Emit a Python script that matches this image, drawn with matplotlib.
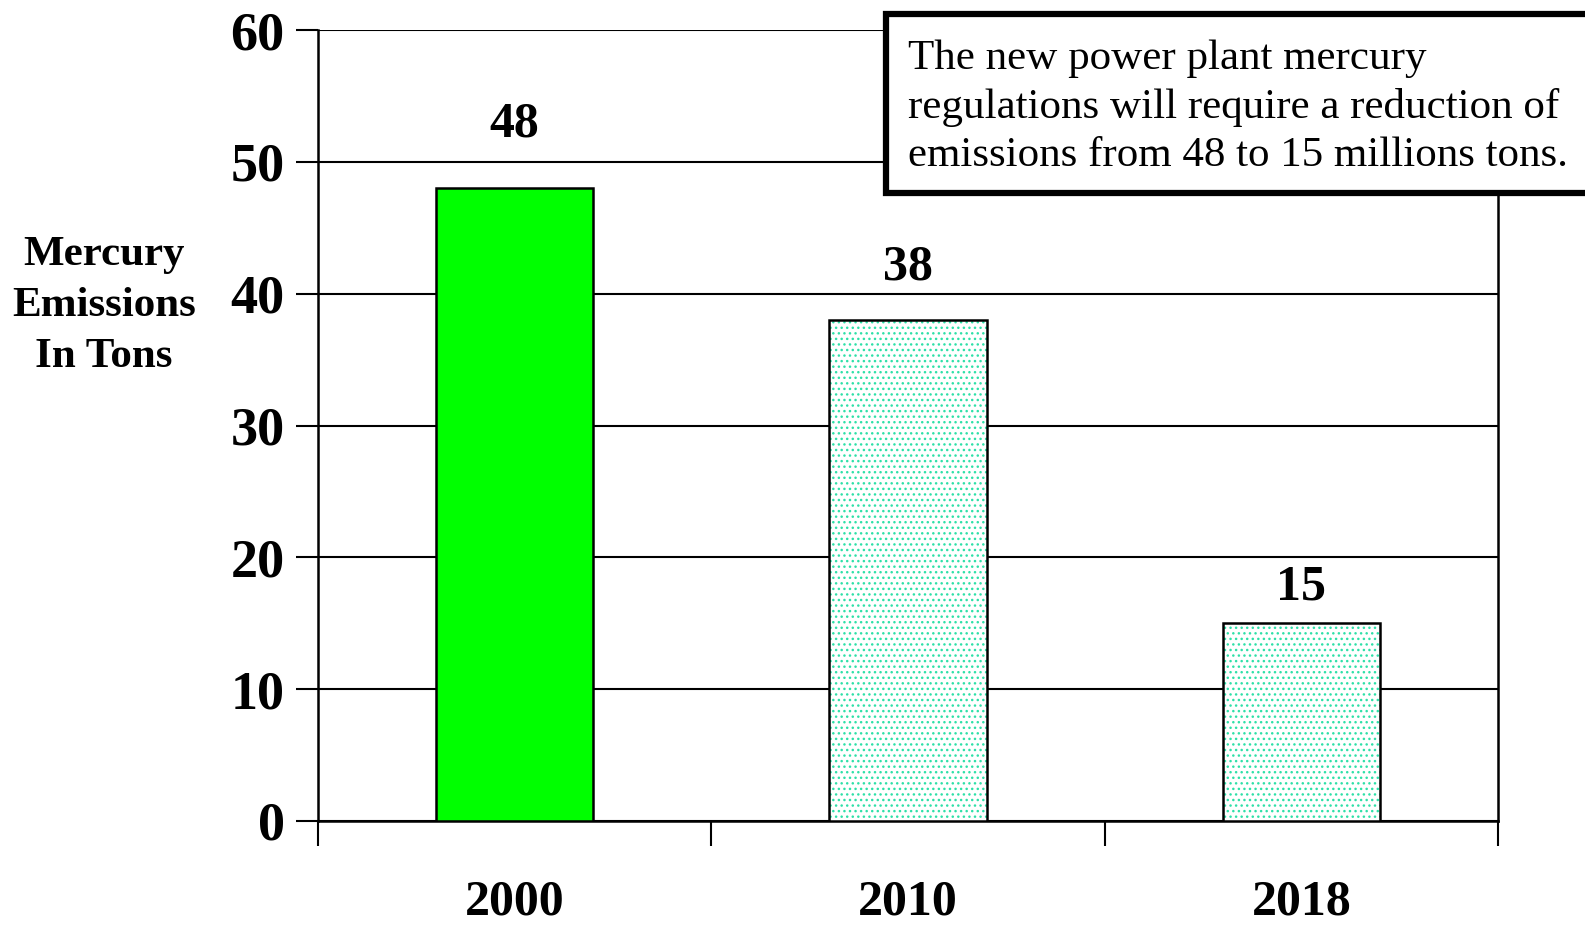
import matplotlib
matplotlib.use("Agg")
import matplotlib.pyplot as plt
from matplotlib.patches import Rectangle

years = ["2000", "2010", "2018"]
emissions = [48, 38, 15]
yticks = [0, 10, 20, 30, 40, 50, 60]
ylabel = "Mercury\nEmissions\nIn Tons"
note = ("The new power plant mercury\n"
        "regulations will require a reduction of\n"
        "emissions from 48 to 15 millions tons.")

# style (label offsets above the bars, in data units)
label_offsets = [4.8, 4.0, 2.7]
fills = ['#00ff00', 'white', 'white']
hatches = [None, '...', '...']
dot_color = '#2ee0a8'

plt.rcParams['font.family'] = ['Liberation Serif', 'DejaVu Serif']
plt.rcParams['hatch.linewidth'] = 1.0

fig = plt.figure(figsize=(15.85, 9.27), dpi=100)
ax = fig.add_axes([318/1585, 1-821/927, (1498-318)/1585, (821-30)/927])

for i, (v, c, h, off) in enumerate(zip(emissions, fills, hatches, label_offsets)):
    # fill + dot pattern
    ax.bar(i, v, width=0.40, color=c, edgecolor=dot_color if h else c,
           linewidth=0, hatch=h, zorder=3)
    # black outline
    ax.bar(i, v, width=0.40, facecolor='none', edgecolor='black',
           linewidth=1.8, zorder=4)
    ax.text(i, v + off, str(v), ha='center', va='center', fontsize=36,
            fontweight='bold', zorder=5)

ax.set_xlim(-0.5, 2.5)
ax.set_ylim(0, 60)
ax.set_yticks(yticks)
ax.set_yticklabels([str(t) for t in yticks], fontsize=39, fontweight='bold')
ax.yaxis.grid(True, color='black', linewidth=1.5, zorder=0)
ax.set_axisbelow(True)

ax.set_xticks([-0.5, 0.5, 1.5, 2.5])
ax.set_xticklabels([])
ax.tick_params(axis='x', length=18, width=1.5, direction='out')
ax.tick_params(axis='y', length=16, width=1.5, direction='out', pad=8)
for i, y in enumerate(years):
    ax.text(i, -6.2, y, ha='center', va='center', fontsize=36,
            fontweight='bold')

ax.spines['top'].set_visible(False)
for s in ['left', 'bottom', 'right']:
    ax.spines[s].set_linewidth(1.8)

fig.text(104/1585, 1-306/927, ylabel, ha='center', va='center',
         fontsize=31, fontweight='bold', linespacing=1.45)

box = Rectangle((886/1585, 1-193/927), 720/1585, (193-14)/927,
                transform=fig.transFigure, facecolor='white',
                edgecolor='black', linewidth=4.5, zorder=10)
fig.add_artist(box)
fig.text(908/1585, 1-107/927, note, ha='left', va='center', fontsize=31,
         linespacing=1.33, zorder=11)

fig.savefig("out.png", dpi=100)
